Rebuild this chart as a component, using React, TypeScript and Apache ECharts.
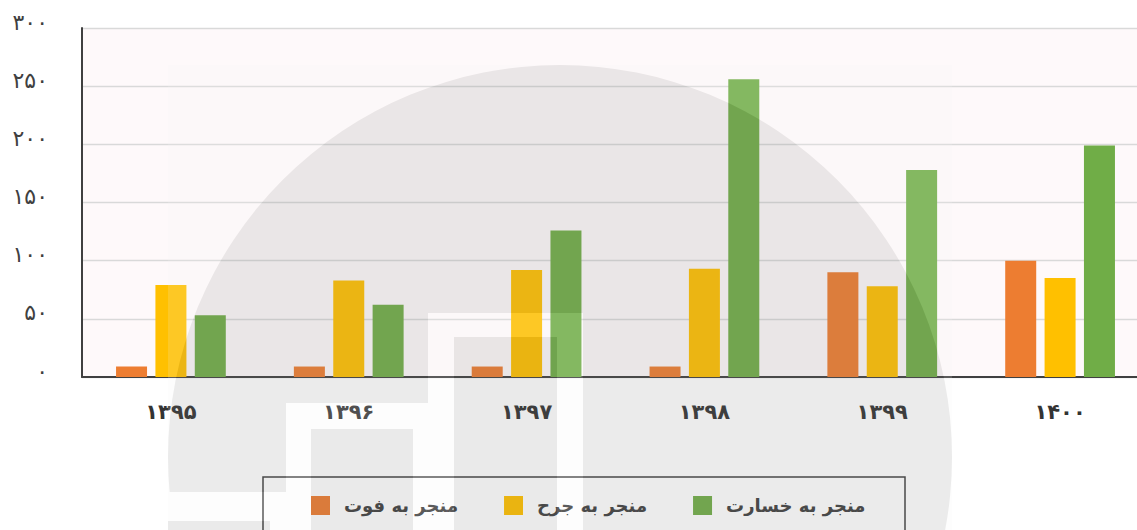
import React, { useEffect, useRef } from "react";
import * as echarts from "echarts";

const categories = ["۱۳۹۵", "۱۳۹۶", "۱۳۹۷", "۱۳۹۸", "۱۳۹۹", "۱۴۰۰"];
const seriesNames = ["منجر به فوت", "منجر به جرح", "منجر به خسارت"];
const deathValues = [9, 9, 9, 9, 90, 100];
const injuryValues = [79, 83, 92, 93, 78, 85];
const damageValues = [53, 62, 126, 256, 178, 199];
const yTicks = ["۰", "۵۰", "۱۰۰", "۱۵۰", "۲۰۰", "۲۵۰", "۳۰۰"];
const colors = ["#ed7d31", "#ffc000", "#70ad47"];

const toPersian = (v: number) => {
  const idx = Math.round(v / 50);
  return yTicks[idx] ?? String(v);
};

const watermarkSvg =
  "<svg xmlns='http://www.w3.org/2000/svg' width='1149' height='530' viewBox='0 0 1149 530'>" +
  "<g opacity='0.148'>" +
  "<rect x='168' y='65' width='784' height='784' fill='#f7f7f7'/>" +
  "<circle cx='560' cy='457' r='392' fill='#7e7e7e'/>" +
  "<rect x='428' y='313' width='155' height='300' fill='#f7f7f7'/>" +
  "<rect x='286' y='403' width='142' height='200' fill='#f7f7f7'/>" +
  "<rect x='168' y='492' width='118' height='100' fill='#f7f7f7'/>" +
  "<rect x='454' y='337' width='103' height='300' fill='#767676'/>" +
  "<rect x='311' y='429' width='102' height='200' fill='#767676'/>" +
  "<rect x='168' y='521' width='102' height='100' fill='#767676'/>" +
  "</g></svg>";
const watermarkUri = "data:image/svg+xml;charset=utf-8," + encodeURIComponent(watermarkSvg);

export default function App() {
  const ref = useRef<HTMLDivElement>(null);
  useEffect(() => {
    if (!ref.current) return;
    const chart = echarts.init(ref.current, undefined, { renderer: "svg" });
    const font = "'DejaVu Sans', sans-serif";
    const values = [deathValues, injuryValues, damageValues];
    chart.setOption({
      animation: false,
      backgroundColor: "#ffffff",
      textStyle: { fontFamily: font },
      grid: {
        left: 82,
        top: 28,
        right: 0,
        height: 349,
        show: true,
        backgroundColor: "#fef9fa",
        borderWidth: 0,
      },
      legend: {
        left: 311,
        top: 496,
        padding: 0,
        itemWidth: 19,
        itemHeight: 19,
        itemGap: 46,
        icon: "rect",
        textStyle: {
          fontFamily: font,
          fontSize: 18,
          fontWeight: "bold",
          color: "#404040",
          padding: [0, 0, 0, 9],
        },
        data: seriesNames,
      },
      xAxis: {
        type: "category",
        data: categories,
        axisLine: { lineStyle: { color: "#404040", width: 2 } },
        axisTick: { show: false },
        axisLabel: {
          margin: 24,
          fontSize: 21,
          fontWeight: "bold",
          color: "#333333",
          fontFamily: font,
        },
      },
      yAxis: {
        type: "value",
        min: 0,
        max: 300,
        interval: 50,
        axisLine: { show: true, lineStyle: { color: "#404040", width: 2 } },
        axisTick: { show: false },
        splitLine: { lineStyle: { color: "#d9d9d9", width: 1.3 } },
        axisLabel: {
          margin: 34,
          fontSize: 22,
          color: "#404040",
          fontFamily: font,
          verticalAlign: "bottom",
          lineHeight: 12,
          formatter: (v: number) => toPersian(v),
        },
      },
      series: seriesNames.map((name, i) => ({
        name,
        type: "bar",
        data: values[i],
        barWidth: 31,
        barGap: "27%",
        itemStyle: { color: colors[i] },
      })),
      graphic: [
        {
          type: "rect",
          shape: { x: 263, y: 477, width: 642, height: 80 },
          style: { fill: "none", stroke: "#404040", lineWidth: 1.5 },
          z: 50,
          silent: true,
        },
        {
          type: "image",
          x: 0,
          y: 0,
          style: { image: watermarkUri, x: 0, y: 0, width: 1149, height: 530 },
          z: 100,
          silent: true,
        },
      ],
    });
    return () => chart.dispose();
  }, []);
  return (
    <div
      ref={ref}
      style={{ position: "fixed", left: 0, top: 0, width: 1149, height: 530 }}
    />
  );
}
